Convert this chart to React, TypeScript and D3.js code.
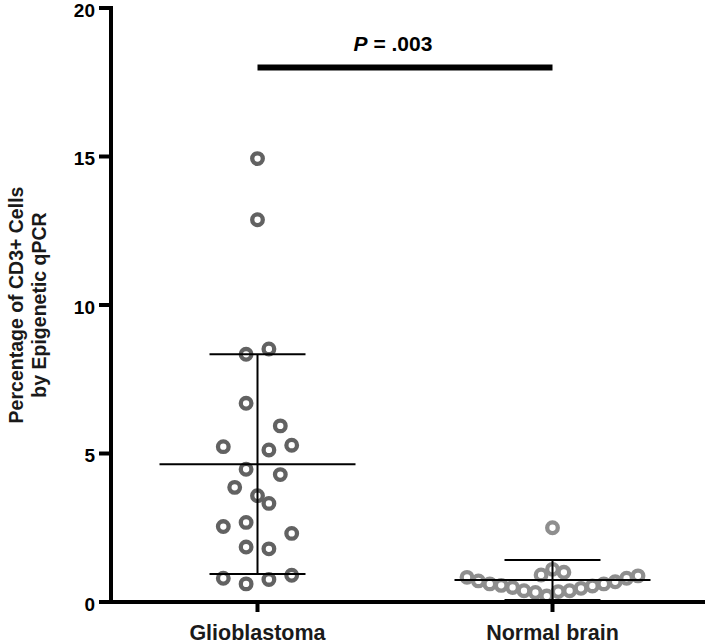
import React from "react";
import * as d3 from "d3";

const categories = ["Glioblastoma", "Normal brain"];

const glioValues = [14.93, 12.87, 8.34, 8.52, 6.69, 5.93, 5.23, 5.12, 5.28, 4.47, 4.29, 3.86, 3.58, 3.32, 2.54, 2.68, 2.31, 1.85, 1.79, 0.8, 0.61, 0.76, 0.9];
const glioSlots = [0, 0, -1, 1, -1, 2, -3, 1, 3, -1, 2, -2, 0, 1, -3, -1, 3, -1, 1, -3, -1, 1, 3];

const normalValues = [0.83, 0.71, 0.61, 0.56, 0.49, 0.38, 0.32, 0.2, 0.91, 1.1, 1.0, 0.35, 0.38, 0.46, 0.54, 0.61, 0.68, 0.8, 0.88, 2.5];
const normalSlots = [-7.5, -6.5, -5.5, -4.5, -3.5, -2.5, -1.5, -0.5, -1, 0, 1, 0.5, 1.5, 2.5, 3.5, 4.5, 5.5, 6.5, 7.5, 0];

const groupMeans = [4.64, 0.74];
const groupSDs = [3.7, 0.67];

const yTicks = [0, 5, 10, 15, 20];
const pLabel = ".003";

const W = 705;
const H = 644;

export default function App() {
  const x = d3.scalePoint<string>().domain(categories).range([110, 700]).padding(0.5);
  const y = d3.scaleLinear().domain([0, 20]).range([602, 8]);
  const slotW = 11.4;
  const colors = ["#626262", "#8e8e8e"];
  const groups = [
    { values: glioValues, slots: glioSlots },
    { values: normalValues, slots: normalSlots },
  ];
  const font = "Liberation Sans, Arial, Helvetica, sans-serif";
  const axisX = 111;
  const axisY = y(0);

  return (
    <svg width={W} height={H} style={{ position: "absolute", left: 0, top: 0, background: "#fff" }} fontFamily={font}>
      {/* points */}
      {groups.map((g, gi) =>
        g.values.map((v, i) => (
          <circle
            key={`${gi}-${i}`}
            cx={(x(categories[gi]) as number) + g.slots[i] * slotW}
            cy={y(v)}
            r={5.3}
            fill="none"
            stroke={colors[gi]}
            strokeWidth={4.3}
          />
        ))
      )}
      {/* mean & SD */}
      {categories.map((c, gi) => {
        const cx = x(c) as number;
        const m = groupMeans[gi];
        const s = groupSDs[gi];
        return (
          <g key={c} stroke="#000" strokeWidth={2}>
            <line x1={cx - 98} x2={cx + 98} y1={y(m)} y2={y(m)} />
            <line x1={cx} x2={cx} y1={y(m + s)} y2={y(Math.max(0, m - s))} />
            <line x1={cx - 48} x2={cx + 48} y1={y(m + s)} y2={y(m + s)} />
            <line x1={cx - 48} x2={cx + 48} y1={y(Math.max(0, m - s))} y2={y(Math.max(0, m - s))} />
          </g>
        );
      })}
      {/* y axis */}
      <line x1={axisX} x2={axisX} y1={y(20) - 2} y2={axisY + 2} stroke="#000" strokeWidth={4} />
      {yTicks.map((t) => (
        <g key={t}>
          <line x1={axisX - 12} x2={axisX} y1={y(t)} y2={y(t)} stroke="#000" strokeWidth={4} />
          <text x={axisX - 16} y={y(t)} dy="0.45em" textAnchor="end" fontSize={19} fontWeight="bold" fill="#000">
            {t}
          </text>
        </g>
      ))}
      {/* x axis */}
      <line x1={axisX - 2} x2={W} y1={axisY} y2={axisY} stroke="#000" strokeWidth={4} />
      {categories.map((c) => (
        <g key={c}>
          <line x1={x(c) as number} x2={x(c) as number} y1={axisY} y2={axisY + 10} stroke="#000" strokeWidth={4} />
          <text x={x(c) as number} y={640} textAnchor="middle" fontSize={21.5} fontWeight="bold" fill="#1a1a1a">
            {c}
          </text>
        </g>
      ))}
      {/* y title */}
      <g transform={`translate(0, ${(y(0) + y(20)) / 2}) rotate(-90)`}>
        <text x={0} y={23} textAnchor="middle" fontSize={19.5} fontWeight="bold" fill="#1a1a1a">
          Percentage of CD3+ Cells
        </text>
        <text x={0} y={46} textAnchor="middle" fontSize={19.5} fontWeight="bold" fill="#1a1a1a">
          by Epigenetic qPCR
        </text>
      </g>
      {/* significance */}
      <line x1={x(categories[0]) as number} x2={x(categories[1]) as number} y1={y(18)} y2={y(18)} stroke="#000" strokeWidth={6} />
      <text x={393} y={51} textAnchor="middle" fontSize={21} fontWeight="bold" fill="#000">
        <tspan fontStyle="italic">P</tspan>
        <tspan> = {pLabel}</tspan>
      </text>
    </svg>
  );
}
